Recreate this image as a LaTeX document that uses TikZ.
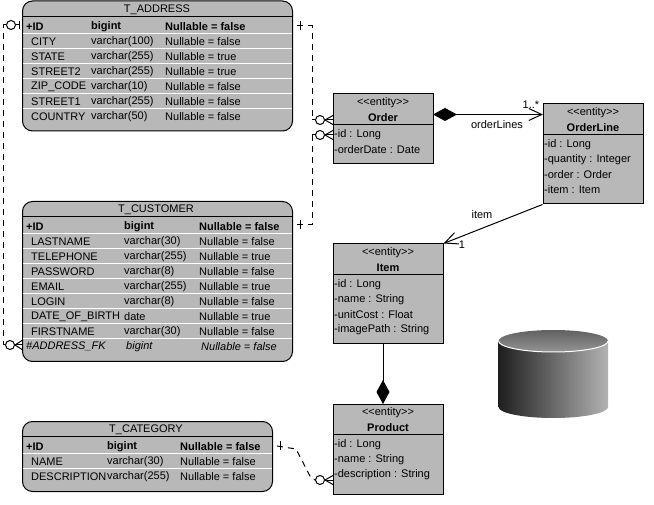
\documentclass[tikz,border=0pt]{standalone}
\usepackage{fontspec}
\setmainfont{Liberation Sans}
\usetikzlibrary{arrows.meta}
\definecolor{boxgray}{HTML}{B8B8B8}
\tikzset{
  dbtable/.style={draw,line width=1pt,fill=boxgray,rounded corners=10pt,inner sep=0pt},
  classbox/.style={draw,line width=1pt,fill=boxgray,inner sep=0pt},
  txt/.style={inner sep=0pt,yshift=-0.6pt,font=\fontsize{11}{13}\selectfont},
  cell/.style={txt,anchor=west},
  keycell/.style={cell,font=\fontsize{11}{13}\selectfont\bfseries},
  fkcell/.style={cell,font=\fontsize{11}{13}\selectfont\itshape},
  classname/.style={txt,font=\fontsize{11}{13}\selectfont\bfseries},
  rowline/.style={draw,white,line width=1pt},
  conn/.style={draw,line width=1pt},
  fklink/.style={draw,line width=1pt,dash pattern=on 6pt off 5pt},
  zeromany/.style={draw,circle,line width=1pt,fill=white,minimum size=9pt,inner sep=0pt},
  opentip/.style={-{Straight Barb[length=13pt,width=12pt,line width=1pt]}},
}
\begin{document}
\begin{tikzpicture}[x=1pt,y=-1pt]
\useasboundingbox (0,0) rectangle (654,505);

% database tables
\node[dbtable,minimum width=270pt,minimum height=130pt] (address) at (157.5,66) {};
\node[dbtable,minimum width=270pt,minimum height=160pt] (customer) at (157.5,281.5) {};
\node[dbtable,minimum width=250pt,minimum height=70pt] (category) at (147.5,456.5) {};

\path[conn] (22.5,16.5) -- (292.5,16.5);
\path[conn] (22.5,216.5) -- (292.5,216.5);
\path[conn] (22.5,436.5) -- (272.5,436.5);

\path[rowline] (23,33.5) -- (292,33.5);
\path[rowline] (23,48.5) -- (292,48.5);
\path[rowline] (23,63.5) -- (292,63.5);
\path[rowline] (23,78.5) -- (292,78.5);
\path[rowline] (23,93.5) -- (292,93.5);
\path[rowline] (23,108.5) -- (292,108.5);

\path[rowline] (23,233.5) -- (292,233.5);
\path[rowline] (23,248.5) -- (292,248.5);
\path[rowline] (23,263.5) -- (292,263.5);
\path[rowline] (23,278.5) -- (292,278.5);
\path[rowline] (23,293.5) -- (292,293.5);
\path[rowline] (23,308.5) -- (292,308.5);
\path[rowline] (23,323.5) -- (292,323.5);
\path[rowline] (23,338.5) -- (292,338.5);

\path[rowline] (23,453.5) -- (272,453.5);
\path[rowline] (23,468.5) -- (272,468.5);

% T_ADDRESS
\node[txt] (addresstitle) at (157,9) {T\_ADDRESS};
\node[keycell] (a1) at (26,26) {+ID};
\node[keycell] (a2) at (91,26) {bigint};
\node[keycell] (a3) at (165,26) {Nullable = false};
\node[cell] (a4) at (31,41) {CITY};
\node[cell] (a5) at (91,41) {varchar(100)};
\node[cell] (a6) at (165,41) {Nullable = false};
\node[cell] (a7) at (31,56) {STATE};
\node[cell] (a8) at (91,56) {varchar(255)};
\node[cell] (a9) at (165,56) {Nullable = true};
\node[cell] (a10) at (31,71) {STREET2};
\node[cell] (a11) at (91,71) {varchar(255)};
\node[cell] (a12) at (165,71) {Nullable = true};
\node[cell] (a13) at (31,86) {ZIP\_CODE};
\node[cell] (a14) at (91,86) {varchar(10)};
\node[cell] (a15) at (165,86) {Nullable = false};
\node[cell] (a16) at (31,101) {STREET1};
\node[cell] (a17) at (91,101) {varchar(255)};
\node[cell] (a18) at (165,101) {Nullable = false};
\node[cell] (a19) at (31,116) {COUNTRY};
\node[cell] (a20) at (91,116) {varchar(50)};
\node[cell] (a21) at (165,116) {Nullable = false};

% T_CUSTOMER
\node[txt] (customertitle) at (156,209) {T\_CUSTOMER};
\node[keycell] (c1) at (26,226) {+ID};
\node[keycell] (c2) at (124,226) {bigint};
\node[keycell] (c3) at (199,226) {Nullable = false};
\node[cell] (c4) at (31,241) {LASTNAME};
\node[cell] (c5) at (124,241) {varchar(30)};
\node[cell] (c6) at (199,241) {Nullable = false};
\node[cell] (c7) at (31,256) {TELEPHONE};
\node[cell] (c8) at (124,256) {varchar(255)};
\node[cell] (c9) at (199,256) {Nullable = true};
\node[cell] (c10) at (31,271) {PASSWORD};
\node[cell] (c11) at (124,271) {varchar(8)};
\node[cell] (c12) at (199,271) {Nullable = false};
\node[cell] (c13) at (31,286) {EMAIL};
\node[cell] (c14) at (124,286) {varchar(255)};
\node[cell] (c15) at (199,286) {Nullable = true};
\node[cell] (c16) at (31,301) {LOGIN};
\node[cell] (c17) at (124,301) {varchar(8)};
\node[cell] (c18) at (199,301) {Nullable = false};
\node[cell] (c19) at (31,316) {DATE\_OF\_BIRTH};
\node[cell] (c20) at (124,316) {date};
\node[cell] (c21) at (199,316) {Nullable = true};
\node[cell] (c22) at (31,331) {FIRSTNAME};
\node[cell] (c23) at (124,331) {varchar(30)};
\node[cell] (c24) at (199,331) {Nullable = false};
\node[fkcell] (c25) at (26,346) {\#ADDRESS\_FK};
\node[fkcell] (c26) at (126,346) {bigint};
\node[fkcell] (c27) at (201,346) {Nullable = false};

% T_CATEGORY
\node[txt] (categorytitle) at (146,429) {T\_CATEGORY};
\node[keycell] (t1) at (26,446) {+ID};
\node[keycell] (t2) at (107,446) {bigint};
\node[keycell] (t3) at (180,446) {Nullable = false};
\node[cell] (t4) at (31,461) {NAME};
\node[cell] (t5) at (107,461) {varchar(30)};
\node[cell] (t6) at (180,461) {Nullable = false};
\node[cell] (t7) at (31,476) {DESCRIPTION};
\node[cell] (t8) at (107,476) {varchar(255)};
\node[cell] (t9) at (180,476) {Nullable = false};

% entity classes
\node[classbox,minimum width=100pt,minimum height=70pt] (order) at (383,129) {};
\node[classbox,minimum width=100pt,minimum height=100pt] (orderline) at (593,154) {};
\node[classbox,minimum width=110pt,minimum height=100pt] (item) at (388,294) {};
\node[classbox,minimum width=110pt,minimum height=90pt] (product) at (388,449) {};

\path[conn] (333,124.5) -- (433,124.5);
\path[conn] (543,134.5) -- (643,134.5);
\path[conn] (333,274.5) -- (443,274.5);
\path[conn] (333,434.5) -- (443,434.5);

\node[txt] (o1) at (383,102) {<{}<entity>{}>};
\node[classname] (o2) at (383,117) {Order};
\node[cell] (o3) at (334,134) {-id : Long};
\node[cell] (o4) at (334,149) {-orderDate : Date};

\node[txt] (l1) at (593,112) {<{}<entity>{}>};
\node[classname] (l2) at (593,127) {OrderLine};
\node[cell] (l3) at (544,144) {-id : Long};
\node[cell] (l4) at (544,159) {-quantity : Integer};
\node[cell] (l5) at (544,174) {-order : Order};
\node[cell] (l6) at (544,189) {-item : Item};

\node[txt] (i1) at (388,252) {<{}<entity>{}>};
\node[classname] (i2) at (388,267) {Item};
\node[cell] (i3) at (334,284) {-id : Long};
\node[cell] (i4) at (334,299) {-name : String};
\node[cell] (i5) at (334,314) {-unitCost : Float};
\node[cell] (i6) at (334,329) {-imagePath : String};

\node[txt] (p1) at (388,412) {<{}<entity>{}>};
\node[classname] (p2) at (388,427) {Product};
\node[cell] (p3) at (334,444) {-id : Long};
\node[cell] (p4) at (334,459) {-name : String};
\node[cell] (p5) at (334,474) {-description : String};

% connector ends
\node[zeromany] (zero1) at (320,120) {};
\node[zeromany] (zero2) at (320,135) {};
\node[zeromany] (zero3) at (11,25) {};
\node[zeromany] (zero4) at (10,345) {};
\node[zeromany] (zero5) at (320,480) {};

\coordinate (addressend) at (297,26);
\coordinate (customerend) at (297,225);
\coordinate (categoryend) at (277,446);
\coordinate (bend1) at (296,449);
\coordinate (bend2) at (311,478);
\coordinate (rail1) at (312,120);
\coordinate (rail2) at (312,135);
\coordinate (rail3) at (3,185);
\coordinate (corner3) at (3,25);
\coordinate (corner4) at (3,345);
\coordinate (keybar) at (19,25);
\coordinate (orderout) at (433,114.5);
\coordinate (orderlinein) at (543,114.5);
\coordinate (itemout) at (383,344);
\coordinate (productin) at (383,404);

% dashed foreign keys
\path[fklink] (addressend) -| (rail1);
\path[fklink] (customerend) -| (rail2);
\path[fklink] (zero3.west) -| (rail3) |- (zero4.west);
\path[fklink] (categoryend) -- (bend1) -- (bend2) -- (zero5.west);
\path[conn] (rail1) -- (zero1.west);
\path[conn] (rail2) -- (zero2.west);
\path[conn] (zero3.east) -- (keybar);
\path[conn] (zero3.west) -- (corner3);
\path[conn] (zero4.west) -- (corner4);

\path[conn] (300,21) -- (300,30);
\path[conn] (300,220) -- (300,229);
\path[conn] (280,441) -- (280,450);
\path[conn] (19,21) -- (19,29);

% crow feet
\path[conn] (zero1.east) -- (333,115.5);
\path[conn] (zero1.east) -- (333,120);
\path[conn] (zero1.east) -- (333,124.5);
\path[conn] (zero2.east) -- (333,130.5);
\path[conn] (zero2.east) -- (333,135);
\path[conn] (zero2.east) -- (333,139.5);
\path[conn] (zero4.east) -- (22,340.5);
\path[conn] (zero4.east) -- (22,345);
\path[conn] (zero4.east) -- (22,349.5);
\path[conn] (zero5.east) -- (333,475.5);
\path[conn] (zero5.east) -- (333,480);
\path[conn] (zero5.east) -- (333,484.5);

% associations
\path[conn,{Diamond[length=24pt,width=13pt]}-{Straight Barb[length=13pt,width=12pt,line width=1pt]}] (orderout) -- (orderlinein);
\path[conn,opentip] (orderline.south west) -- (item.north east);
\path[conn,-{Diamond[length=24pt,width=13pt]}] (itemout) -- (productin);

\node[txt] (orderlineslabel) at (497,124) {orderLines};
\node[txt] (manylabel) at (531,104) {1..*};
\node[txt] (itemlabel) at (482,214) {item};
\node[txt] (onelabel) at (462,244) {1};

% database cylinder
\shade[left color=black!88,right color=black!30]
  (498.5,341) -- (498.5,407) arc[start angle=180,end angle=360,x radius=54.75pt,y radius=11pt] -- (608,341) -- cycle;
\shade[top color=black!62,bottom color=black!42] (553.25,341) ellipse [x radius=54.75pt,y radius=11pt];
\draw[white,line width=1pt] (498.5,341) arc[start angle=180,end angle=360,x radius=54.75pt,y radius=11pt];
\end{tikzpicture}
\end{document}
